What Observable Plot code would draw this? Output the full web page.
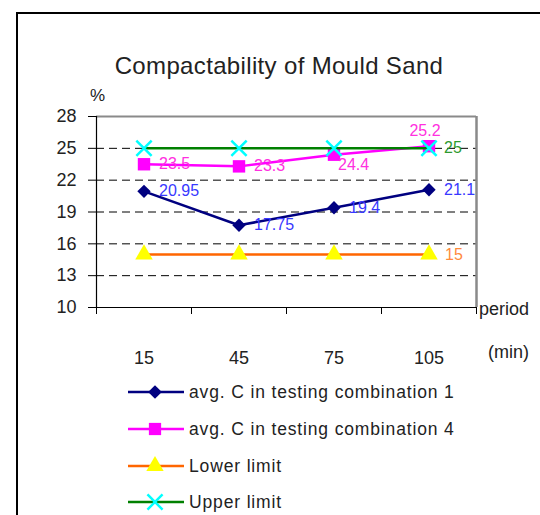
<!DOCTYPE html>
<html><head><meta charset="utf-8">
<script src="https://cdn.jsdelivr.net/npm/d3@7"></script>
<script src="https://cdn.jsdelivr.net/npm/@observablehq/plot@0.6"></script>
<style>
body{margin:0;background:#fff;font-family:"Liberation Sans",Arial,sans-serif;color:#111}
#wrap{position:relative;width:540px;height:515px;overflow:hidden;background:#fff}
.abs{position:absolute;white-space:nowrap}
.leg{position:absolute;left:128px;display:flex;align-items:center;font-size:17.5px;letter-spacing:0.85px;height:20px;color:#222}
.leg svg{margin-right:5px}
</style></head>
<body>
<div id="wrap">
  <div class="abs" style="left:16px;top:12px;width:600px;height:600px;border-left:2px solid #000;border-top:2px solid #000"></div>
  <div class="abs" style="left:0;width:558px;top:52px;text-align:center;font-size:24px;letter-spacing:0.35px;color:#222">Compactability of Mould Sand</div>
  <div class="abs" style="left:90px;top:86px;font-size:17px;color:#222">%</div>
  <div id="chart" class="abs" style="left:0;top:80px"></div>
  <div class="abs" style="left:479px;top:299px;font-size:18px;color:#222">period</div>
  <div class="abs" style="left:488px;top:342px;font-size:18px;color:#222">(min)</div>
  <div id="legend"></div>
</div>
<script>
const periods = [15, 45, 75, 105];
const combo1 = [20.95, 17.75, 19.4, 21.1];
const combo4 = [23.5, 23.3, 24.4, 25.2];
const lowerLimit = [15, 15, 15, 15];
const upperLimit = [25, 25, 25, 25];
const yTicks = [10, 13, 16, 19, 22, 25, 28];
const gridLines = [13, 16, 19, 22, 25];
const periodBounds = [0, 30, 60, 90, 120];
const seriesNames = ["avg. C in testing combination 1", "avg. C in testing combination 4", "Lower limit", "Upper limit"];

const rows = arr => periods.map((p, i) => ({p, v: arr[i], i}));
const s1 = rows(combo1), s4 = rows(combo4), lo = rows(lowerLimit), up = rows(upperLimit);
const last = d => d.i === periods.length - 1;
const lbl = {fontSize: 16, fontFamily: "Liberation Sans, Arial, sans-serif", textAnchor: "start"};

const chart = Plot.plot({
  width: 540, height: 300,
  marginTop: 36, marginBottom: 73, marginLeft: 96, marginRight: 64,
  style: {fontFamily: "Liberation Sans, Arial, sans-serif", color: "#222", background: "transparent"},
  x: {type: "linear", domain: [0, 120]},
  y: {domain: [10, 28]},
  marks: [
    Plot.ruleY(gridLines, {stroke: "#000", strokeDasharray: "8,5", strokeWidth: 1}),
    Plot.ruleY([28], {stroke: "#8a8a8a", strokeWidth: 2}),
    Plot.ruleX([120], {stroke: "#8a8a8a", strokeWidth: 2.5}),
    Plot.ruleX([0], {stroke: "#000", strokeWidth: 1.2}),
    Plot.ruleY([10], {stroke: "#000", strokeWidth: 1.2}),
    Plot.axisY(yTicks, {tickSize: 8, tickPadding: 12, fontSize: 18, label: null, stroke: "#000"}),
    Plot.axisX(periodBounds, {tickSize: 7, tickFormat: () => "", label: null, stroke: "#000"}),
    Plot.axisX(periods, {tickSize: 0, tickPadding: 44, fontSize: 18, label: null}),
    // series 1
    Plot.line(s1, {x: "p", y: "v", stroke: "#000080", strokeWidth: 2.5}),
    Plot.dot(s1, {x: "p", y: "v", symbol: "diamond2", r: 6, fill: "#000080"}),
    // series 4
    Plot.line(s4, {x: "p", y: "v", stroke: "#ff00ff", strokeWidth: 2.5}),
    Plot.dot(s4, {x: "p", y: "v", symbol: "square", r: 7, fill: "#ff00ff"}),
    // lower limit
    Plot.line(lo, {x: "p", y: "v", stroke: "#ff6600", strokeWidth: 2.5}),
    Plot.dot(lo, {x: "p", y: "v", symbol: "triangle", r: 6.5, fill: "#ffff00"}),
    // upper limit
    Plot.line(up, {x: "p", y: "v", stroke: "#008000", strokeWidth: 2.5}),
    Plot.dot(up, {x: "p", y: "v", symbol: "times", r: 7, stroke: "#00ffff", strokeWidth: 2.5}),
    // labels
    Plot.text(s1, {x: "p", y: "v", text: d => String(d.v), fill: "#3838ff", dx: 15, ...lbl}),
    Plot.text(s4, {filter: d => d.i < 2, x: "p", y: "v", text: d => String(d.v), fill: "#ff30e0", dx: 15, ...lbl}),
    Plot.text(s4, {filter: d => d.i === 2, x: "p", y: "v", text: d => String(d.v), fill: "#ff30e0", dx: 4, dy: 10, ...lbl}),
    Plot.text(s4, {filter: last, x: "p", y: "v", text: d => String(d.v), fill: "#ff30e0", dx: -4, dy: -15, ...lbl, textAnchor: "middle"}),
    Plot.text(up, {filter: last, x: "p", y: "v", text: d => String(d.v), fill: "#2e9a2e", dx: 15, ...lbl}),
    Plot.text(lo, {filter: last, x: "p", y: "v", text: d => String(d.v), fill: "#ff8a3c", dx: 16, ...lbl})
  ]
});
document.getElementById("chart").appendChild(chart);

// legend
const legSpecs = [
  {line: "#000080", sym: d3.symbolDiamond2, size: 120, fill: "#000080", stroke: "none"},
  {line: "#ff00ff", sym: d3.symbolSquare, size: 150, fill: "#ff00ff", stroke: "none"},
  {line: "#ff6600", sym: d3.symbolTriangle, size: 130, fill: "#ffff00", stroke: "none"},
  {line: "#008000", sym: d3.symbolTimes, size: 150, fill: "none", stroke: "#00ffff"}
];
const legTops = [382, 419, 456, 492];
const leg = document.getElementById("legend");
legSpecs.forEach((s, k) => {
  const row = document.createElement("div");
  row.className = "leg";
  row.style.top = legTops[k] + "px";
  const path = d3.symbol(s.sym, s.size)();
  row.innerHTML = `<svg width="56" height="20"><line x1="0" x2="56" y1="10" y2="10" stroke="${s.line}" stroke-width="2.5"/><path transform="translate(27,10)" d="${path}" fill="${s.fill}" stroke="${s.stroke}" stroke-width="2.5"/></svg><span>${seriesNames[k]}</span>`;
  leg.appendChild(row);
});
</script>
</body></html>
